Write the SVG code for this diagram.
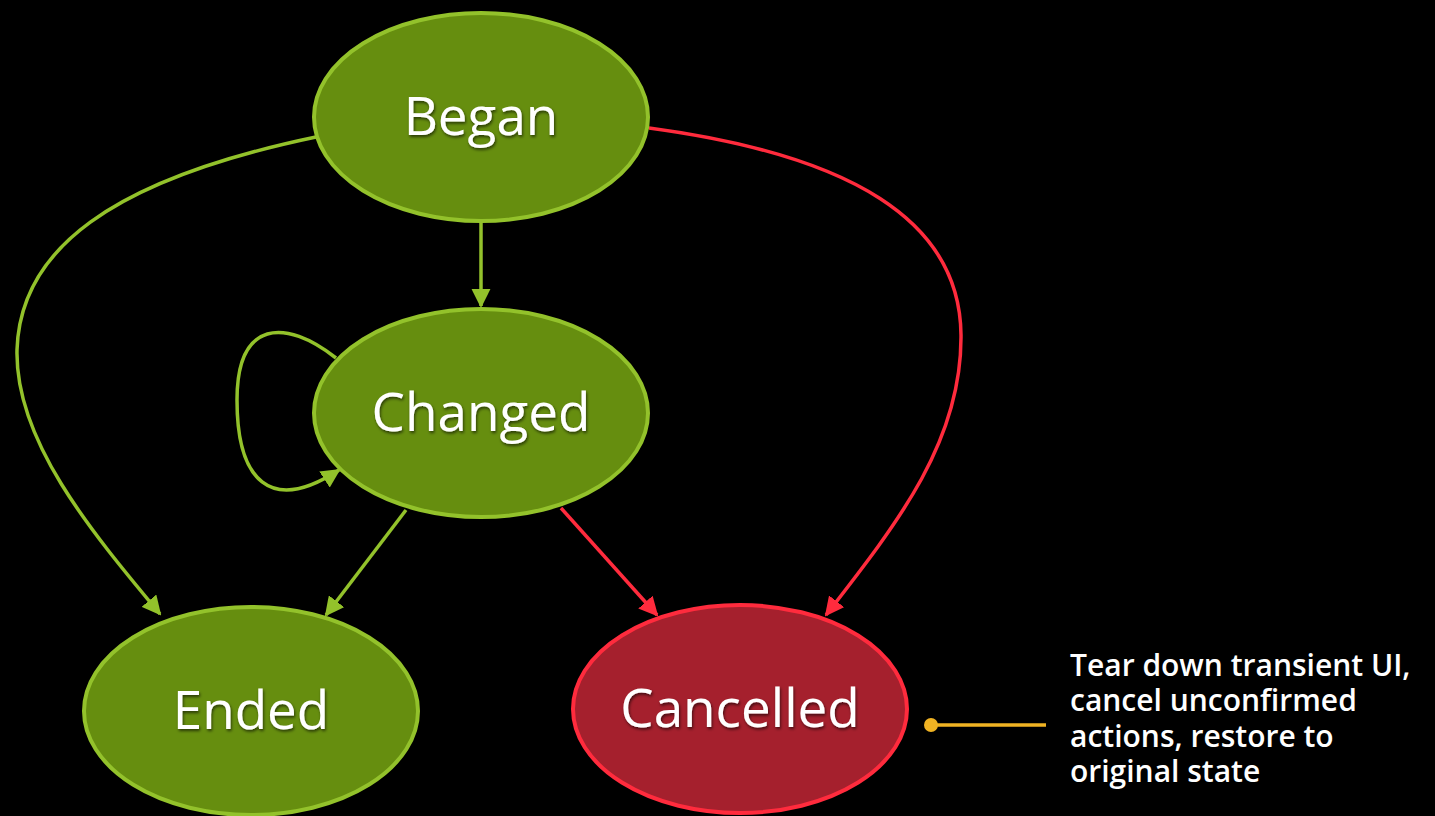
<svg xmlns="http://www.w3.org/2000/svg" width="1435" height="816" viewBox="0 0 1435 816">
  <style>
    .state-ok { fill: #668e0f; stroke: #93c22b; stroke-width: 4; }
    .state-bad { fill: #a5202d; stroke: #ff2b3d; stroke-width: 4; }
    .label { font-family: "Open Sans", "Liberation Sans", sans-serif; font-size: 53px; fill: #ffffff; text-anchor: middle; filter: url(#shadow); }
    .edge-ok { fill: none; stroke: #93c22b; stroke-width: 3.5; marker-end: url(#arrow-ok); }
    .edge-bad { fill: none; stroke: #ff2b3d; stroke-width: 3.5; marker-end: url(#arrow-bad); }
    .note { font-family: "Open Sans", "Liberation Sans", sans-serif; font-size: 30px; font-weight: 600; fill: #ffffff; }
  </style>
  <defs>
    <marker id="arrow-ok" viewBox="0 0 10 10" refX="9" refY="5" markerWidth="5.5" markerHeight="5.5" orient="auto" markerUnits="strokeWidth">
      <path d="M0,0 L10,5 L0,10 z" fill="#93c22b"/>
    </marker>
    <marker id="arrow-bad" viewBox="0 0 10 10" refX="9" refY="5" markerWidth="5.5" markerHeight="5.5" orient="auto" markerUnits="strokeWidth">
      <path d="M0,0 L10,5 L0,10 z" fill="#ff2b3d"/>
    </marker>
    <filter id="shadow" x="-10%" y="-10%" width="120%" height="130%">
      <feDropShadow dx="1" dy="2" stdDeviation="1.5" flood-color="#000" flood-opacity="0.6"/>
    </filter>
  </defs>
  <rect width="1435" height="816" fill="#000"/>

  <g id="connectors">
    <path class="edge-ok" d="M481,222 L481,306"/>
    <path class="edge-ok" d="M316,137 C 110,180 20,250 17,350 C 15,440 90,530 160,614"/>
    <path class="edge-bad" d="M649,128 C 850,155 960,220 961,335 C 962,440 900,520 826,615"/>
    <path class="edge-ok" d="M406,510 L326,615"/>
    <path class="edge-bad" d="M561,508 L657,615"/>
    <path class="edge-ok" d="M336,358 C 285,318 237,320 237,400 C 237,480 270,515 339,470"/>
  </g>

  <g id="node-began">
    <ellipse class="state-ok" cx="481" cy="117" rx="167" ry="104"/>
    <text class="label" x="481" y="135">Began</text>
  </g>
  <g id="node-changed">
    <ellipse class="state-ok" cx="481" cy="413" rx="167" ry="104"/>
    <text class="label" x="481" y="431">Changed</text>
  </g>
  <g id="node-ended">
    <ellipse class="state-ok" cx="251" cy="711" rx="167" ry="104"/>
    <text class="label" x="251" y="729">Ended</text>
  </g>
  <g id="node-cancelled">
    <ellipse class="state-bad" cx="740" cy="709" rx="167" ry="104"/>
    <text class="label" x="740" y="727">Cancelled</text>
  </g>

  <g id="note-cancelled">
    <line x1="931" y1="725" x2="1046" y2="725" stroke="#f0b323" stroke-width="3.5"/>
    <circle cx="931" cy="725" r="7" fill="#f0b323"/>
    <text class="note" x="1070" y="676">Tear down transient UI,<tspan x="1070" y="711">cancel unconfirmed</tspan><tspan x="1070" y="747">actions, restore to</tspan><tspan x="1070" y="782">original state</tspan></text>
  </g>
</svg>
